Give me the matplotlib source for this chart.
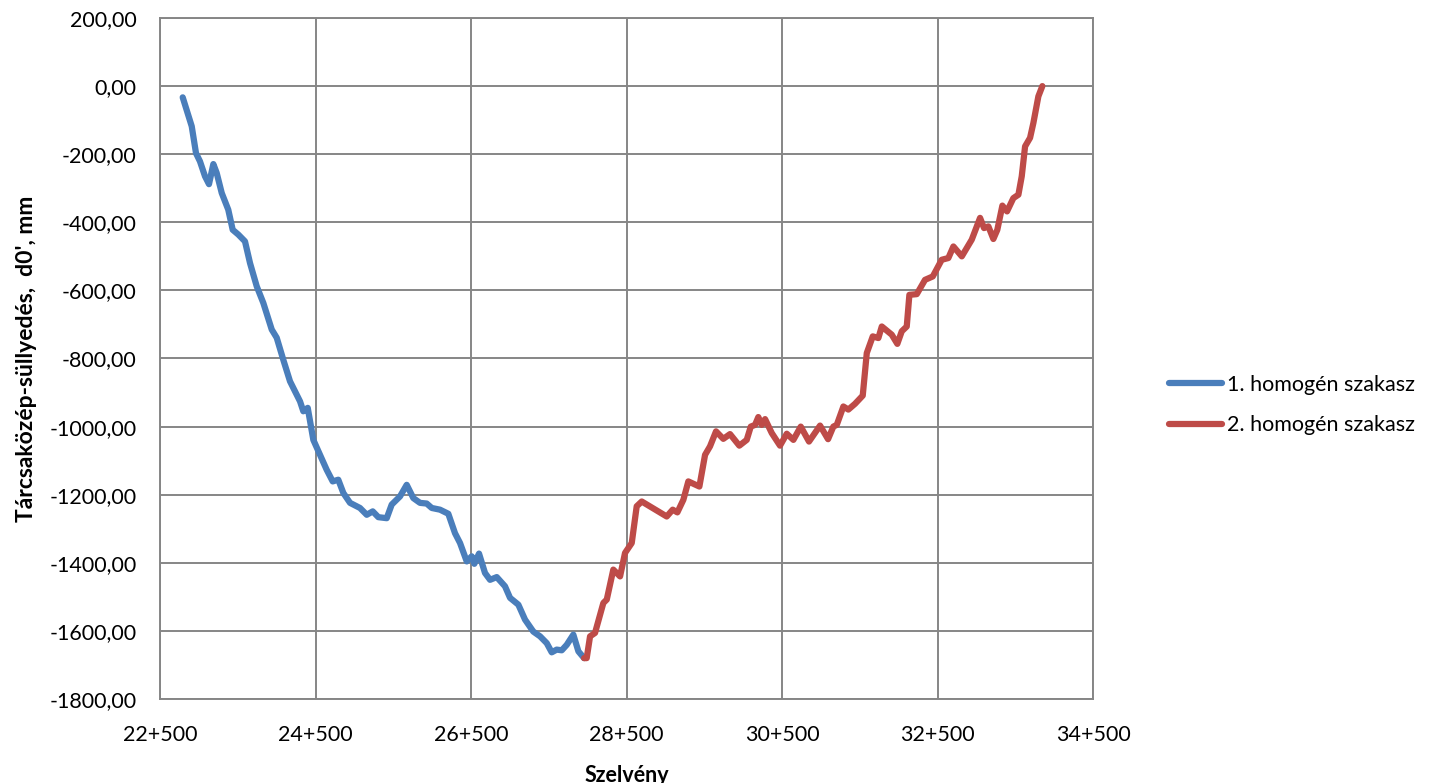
import numpy as np
import matplotlib.pyplot as plt
from matplotlib.ticker import FuncFormatter, FixedLocator, MultipleLocator

# szelvény (m) és tárcsaközép-süllyedés (mm), 1. homogén szakasz
x1 = [22792, 22908, 22963, 23014, 23079, 23130, 23186, 23229, 23294, 23378,
      23435, 23507, 23593, 23658, 23744, 23829, 23937, 24001, 24086, 24172,
      24301, 24343, 24400, 24472, 24558, 24644, 24721, 24793, 24858, 24944,
      25072, 25159, 25236, 25308, 25416, 25480, 25587, 25673, 25758, 25844,
      25930, 25995, 26101, 26208, 26294, 26359, 26445, 26509, 26543, 26603,
      26680, 26745, 26831, 26937, 27002, 27109, 27195, 27301, 27388, 27474,
      27538, 27602, 27667, 27731, 27816, 27881, 27954]
d1 = [-33, -118, -197, -221, -265, -288, -229, -255, -314, -363,
      -422, -436, -456, -520, -588, -637, -715, -739, -804, -867,
      -926, -955, -945, -1039, -1083, -1127, -1161, -1156, -1195, -1224,
      -1239, -1259, -1249, -1266, -1269, -1229, -1205, -1171, -1210, -1224,
      -1226, -1239, -1244, -1256, -1313, -1342, -1396, -1381, -1403, -1373,
      -1430, -1450, -1442, -1469, -1503, -1523, -1567, -1602, -1616, -1636,
      -1663, -1655, -1657, -1641, -1611, -1660, -1680]

# 2. homogén szakasz
x2 = [27954, 27988, 28031, 28095, 28202, 28246, 28330, 28417, 28481, 28567,
      28631, 28696, 29017, 29094, 29154, 29231, 29295, 29437, 29510, 29574,
      29651, 29745, 29831, 29951, 30046, 30098, 30153, 30195, 30239, 30282,
      30368, 30474, 30561, 30646, 30741, 30847, 30989, 31092, 31160, 31204,
      31289, 31353, 31439, 31538, 31590, 31667, 31739, 31783, 31911, 31983,
      32040, 32104, 32138, 32233, 32339, 32439, 32554, 32639, 32704, 32812,
      32940, 33047, 33098, 33154, 33218, 33269, 33334, 33394, 33475, 33540,
      33583, 33626, 33690, 33733, 33797, 33848]
d2 = [-1680, -1680, -1616, -1606, -1518, -1508, -1420, -1440, -1371, -1342,
      -1234, -1220, -1264, -1244, -1252, -1215, -1161, -1176, -1083, -1058,
      -1014, -1036, -1022, -1056, -1039, -1000, -995, -972, -995, -978,
      -1019, -1056, -1021, -1039, -1000, -1044, -997, -1037, -1000, -995,
      -941, -950, -933, -909, -784, -735, -740, -706, -730, -757,
      -720, -706, -613, -611, -569, -559, -510, -505, -471, -500,
      -451, -387, -417, -412, -449, -422, -351, -368, -329, -319,
      -265, -177, -152, -108, -30, 0]

series_names = ["1. homogén szakasz", "2. homogén szakasz"]
x_ticks = [22500, 24500, 26500, 28500, 30500, 32500, 34500]


def chainage(v, pos):
    km = int(v // 1000)
    return f"{km}+{int(v - km * 1000):03d}"


def comma(v, pos):
    return f"{v:.2f}".replace(".", ",")


def main():
    plt.rcParams['font.family'] = ['Lato', 'DejaVu Sans']

    fig = plt.figure(figsize=(14.35, 7.83), dpi=100)
    ax = fig.add_axes([0.1115, 0.1073, 0.6502, 0.8697])

    ax.plot(x1, d1, color="#4A7EBB", lw=4.5, solid_capstyle="round",
            solid_joinstyle="round", label=series_names[0])
    ax.plot(x2, d2, color="#BE4B48", lw=4.5, solid_capstyle="round",
            solid_joinstyle="round", label=series_names[1])

    ax.set_xlim(22500, 34500)
    ax.set_ylim(-1800, 200)
    ax.xaxis.set_major_locator(FixedLocator(x_ticks))
    ax.yaxis.set_major_locator(MultipleLocator(200))
    ax.xaxis.set_major_formatter(FuncFormatter(chainage))
    ax.yaxis.set_major_formatter(FuncFormatter(comma))

    ax.grid(True, color="#868686", lw=1.4)
    ax.set_axisbelow(True)
    for s in ax.spines.values():
        s.set_color("#868686")
        s.set_linewidth(1.4)
    ax.tick_params(length=0, labelsize=15.5, colors="black")
    ax.tick_params(axis="y", pad=17)
    ax.tick_params(axis="x", pad=19)

    ax.set_xlabel("Szelvény", fontsize=15.5, fontweight="bold", labelpad=14)
    ax.set_ylabel("Tárcsaközép-süllyedés,  d0', mm", fontsize=16.5,
                  fontweight="bold", labelpad=8.5)

    fig.legend(loc="center left", bbox_to_anchor=(0.801, 0.483),
               frameon=False, fontsize=15.5, handlelength=2.45,
               handletextpad=0.25, labelspacing=0.95)

    plt.savefig("out.png")


if __name__ == "__main__":
    main()
